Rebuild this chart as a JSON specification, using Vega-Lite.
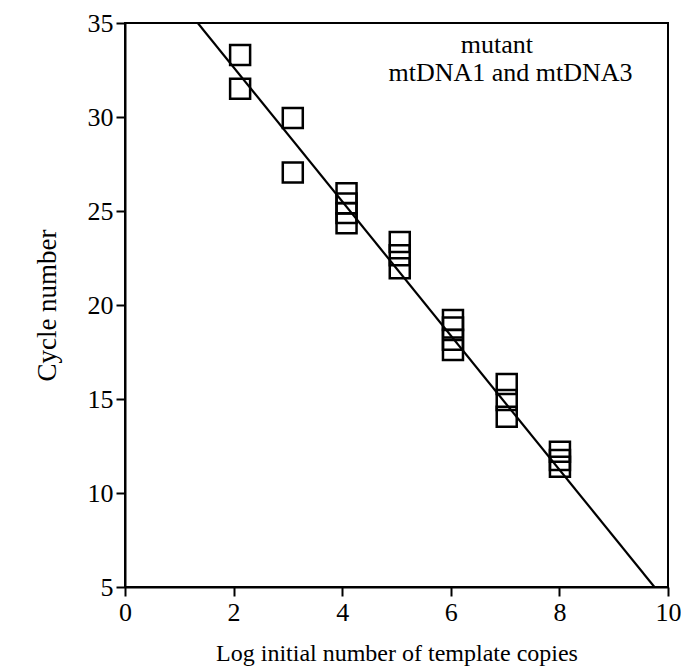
{
  "$schema": "https://vega.github.io/schema/vega-lite/v6.json",
  "width": 543,
  "height": 564,
  "autosize": "none",
  "padding": {"left": 125, "top": 23, "right": 13, "bottom": 85},
  "background": "white",
  "config": {
    "view": {"stroke": "black", "strokeWidth": 2},
    "font": "Liberation Serif",
    "axis": {
      "grid": false,
      "domainColor": "black",
      "domainWidth": 2,
      "tickColor": "black",
      "tickWidth": 2,
      "tickSize": 9,
      "labelFont": "Liberation Serif",
      "labelFontSize": 26,
      "labelColor": "black",
      "titleFont": "Liberation Serif",
      "titleFontWeight": "normal",
      "titleColor": "black"
    }
  },
  "datasets": {
    "pts": [
      {"logcopies": 2.12, "cycle": 33.3},
      {"logcopies": 2.12, "cycle": 31.5},
      {"logcopies": 3.09, "cycle": 29.95},
      {"logcopies": 3.09, "cycle": 27.05},
      {"logcopies": 4.08, "cycle": 25.95},
      {"logcopies": 4.08, "cycle": 25.4},
      {"logcopies": 4.08, "cycle": 24.9},
      {"logcopies": 4.08, "cycle": 24.35},
      {"logcopies": 5.06, "cycle": 23.35},
      {"logcopies": 5.06, "cycle": 22.65},
      {"logcopies": 5.06, "cycle": 21.95},
      {"logcopies": 6.04, "cycle": 19.2},
      {"logcopies": 6.04, "cycle": 18.8},
      {"logcopies": 6.04, "cycle": 18.15},
      {"logcopies": 6.04, "cycle": 17.6},
      {"logcopies": 7.03, "cycle": 15.8},
      {"logcopies": 7.03, "cycle": 14.95},
      {"logcopies": 7.03, "cycle": 14.05},
      {"logcopies": 8.01, "cycle": 12.2},
      {"logcopies": 8.01, "cycle": 11.75},
      {"logcopies": 8.01, "cycle": 11.4}
    ],
    "fit": [
      {"logcopies": 1.34, "cycle": 35},
      {"logcopies": 9.75, "cycle": 5}
    ],
    "labels": [
      {"logcopies": 6.85, "cycle": 33.85, "text": "mutant"},
      {"logcopies": 7.1, "cycle": 32.35, "text": "mtDNA1 and mtDNA3"}
    ]
  },
  "layer": [
    {
      "data": {"name": "fit"},
      "mark": {"type": "line", "color": "black", "strokeWidth": 2.2, "clip": true},
      "encoding": {
        "x": {"field": "logcopies", "type": "quantitative", "scale": {"domain": [0, 10], "nice": false},
              "axis": {"values": [0, 2, 4, 6, 8, 10], "title": "Log initial number of template copies", "titleFontSize": 24, "titlePadding": 16, "labelPadding": 3, "labelFlush": false}},
        "y": {"field": "cycle", "type": "quantitative", "scale": {"domain": [5, 35], "nice": false, "zero": false},
              "axis": {"values": [5, 10, 15, 20, 25, 30, 35], "title": "Cycle number", "titleFontSize": 27, "titlePadding": 26, "labelPadding": 3}}
      }
    },
    {
      "data": {"name": "pts"},
      "mark": {"type": "point", "shape": "square", "filled": false, "size": 400, "stroke": "black", "strokeWidth": 2.5, "opacity": 1},
      "encoding": {
        "x": {"field": "logcopies", "type": "quantitative"},
        "y": {"field": "cycle", "type": "quantitative"}
      }
    },
    {
      "data": {"name": "labels"},
      "mark": {"type": "text", "font": "Liberation Serif", "fontSize": 26, "color": "black", "align": "center", "baseline": "middle"},
      "encoding": {
        "x": {"field": "logcopies", "type": "quantitative"},
        "y": {"field": "cycle", "type": "quantitative"},
        "text": {"field": "text", "type": "nominal"}
      }
    }
  ]
}
